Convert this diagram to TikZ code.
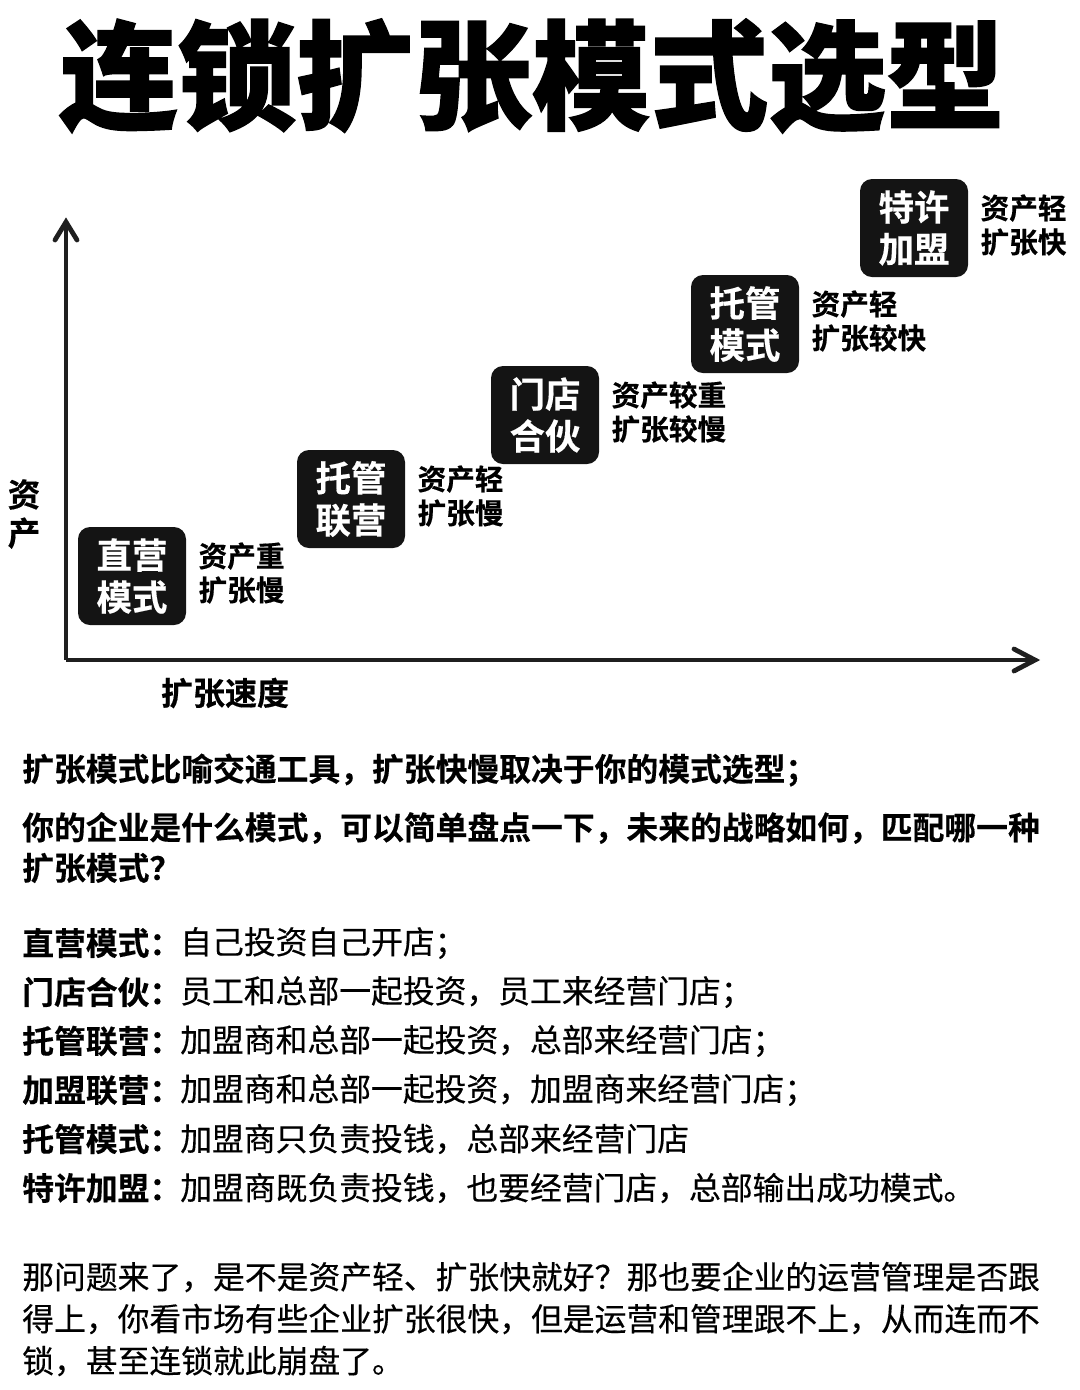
\documentclass[tikz,border=0pt]{standalone}
\usepackage{fontspec}
\setmainfont{Noto Sans CJK SC}
\newfontfamily\blackfont{Noto Sans CJK SC Black}[FakeBold=1.2]
\newfontfamily\heavyfont{Noto Sans CJK SC Bold}[FakeBold=0.4]
\newfontfamily\plainfont{Noto Sans CJK SC}[FakeBold=0.35]
\usetikzlibrary{positioning}
\newcommand{\pxu}{*0.75pt}
\tikzset{
  modebox/.style={fill=black!92,text=white,rounded corners=9pt,minimum width=108\pxu,minimum height=98\pxu,inner sep=0pt,align=center,font=\fontsize{26.6pt}{31.5pt}\heavyfont},
  sidelabel/.style={right=12\pxu of #1,yshift=3\pxu,inner sep=0pt,align=left,font=\fontsize{21.5pt}{25.5pt}\heavyfont},
  bodyline/.style={anchor=west,inner sep=0pt,font=\fontsize{23.85pt}{30pt}\plainfont},
  boldline/.style={bodyline,font=\fontsize{23.85pt}{30pt}\heavyfont},
  axisline/.style={line width=3.6pt,draw=black!88},
}
\begin{document}
\begin{tikzpicture}[x=0.75pt,y=0.75pt,yscale=-1,xscale=1]
\useasboundingbox (0,0) rectangle (1080,1390);

% title
\node (title) [inner sep=0pt,font=\fontsize{88.6pt}{89pt}\blackfont] at (532,76) {连锁扩张模式选型};

% axes
\coordinate (origin) at (66,660);
\coordinate (ytip) at (66,222);
\coordinate (xtip) at (1035,660);
\draw [axisline] (origin) -- (ytip);
\draw [axisline] (origin) -- (xtip);
\draw [axisline,line cap=round] (55,240) -- (ytip) -- (77,240);
\draw [axisline,line cap=round] (1014,649) -- (xtip) -- (1014,671);
\node (ylabel) [inner sep=0pt,align=center,font=\fontsize{24.5pt}{29pt}\heavyfont] at (24,514) {资\\产};
\node (xlabel) [inner sep=0pt,font=\fontsize{24pt}{28pt}\heavyfont] at (225,693) {扩张速度};

% modes
\node (direct) [modebox] at (132,576) {直营\\模式};
\node (hosted) [modebox] at (351,499) {托管\\联营};
\node (partner) [modebox] at (545,415) {门店\\合伙};
\node (managed) [modebox] at (745,324) {托管\\模式};
\node (franchise) [modebox] at (914,228) {特许\\加盟};
\node (directnote) [sidelabel=direct] {资产重\\扩张慢};
\node (hostednote) [sidelabel=hosted] {资产轻\\扩张慢};
\node (partnernote) [sidelabel=partner] {资产较重\\扩张较慢};
\node (managednote) [sidelabel=managed] {资产轻\\扩张较快};
\node (franchisenote) [sidelabel=franchise] {资产轻\\扩张快};

% text
\node (introa) [boldline] at (22,770) {扩张模式比喻交通工具，扩张快慢取决于你的模式选型；};
\node (introb) [boldline] at (22,828) {你的企业是什么模式，可以简单盘点一下，未来的战略如何，匹配哪一种};
\node (introc) [boldline] at (22,868) {扩张模式？};
\node (deftitlea) [boldline] at (22,943) {直营模式：};
\node (defa) [bodyline] at (180,943) {自己投资自己开店；};
\node (deftitleb) [boldline] at (22,992) {门店合伙：};
\node (defb) [bodyline] at (180,992) {员工和总部一起投资，员工来经营门店；};
\node (deftitlec) [boldline] at (22,1041) {托管联营：};
\node (defc) [bodyline] at (180,1041) {加盟商和总部一起投资，总部来经营门店；};
\node (deftitled) [boldline] at (22,1090) {加盟联营：};
\node (defd) [bodyline] at (180,1090) {加盟商和总部一起投资，加盟商来经营门店；};
\node (deftitlee) [boldline] at (22,1139) {托管模式：};
\node (defe) [bodyline] at (180,1139) {加盟商只负责投钱，总部来经营门店};
\node (deftitlef) [boldline] at (22,1188) {特许加盟：};
\node (deff) [bodyline] at (180,1188) {加盟商既负责投钱，也要经营门店，总部输出成功模式。};
\node (closea) [bodyline] at (22,1277) {那问题来了，是不是资产轻、扩张快就好？那也要企业的运营管理是否跟};
\node (closeb) [bodyline] at (22,1319) {得上，你看市场有些企业扩张很快，但是运营和管理跟不上，从而连而不};
\node (closec) [bodyline] at (22,1361) {锁，甚至连锁就此崩盘了。};
\end{tikzpicture}
\end{document}
